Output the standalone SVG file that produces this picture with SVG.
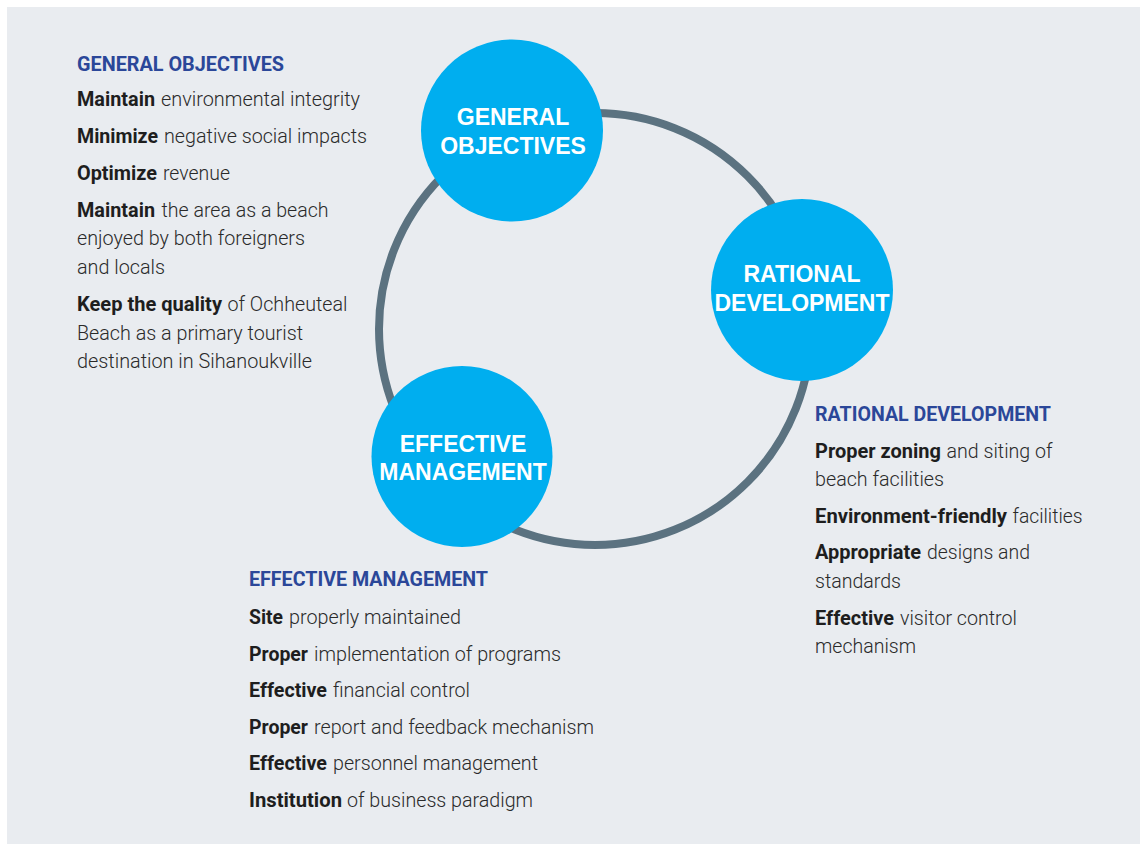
<svg xmlns="http://www.w3.org/2000/svg" width="1141" height="844" viewBox="0 0 1141 844">
<style>
.bg{fill:#e9ecf0}
.ring{fill:none;stroke:#5b7280;stroke-width:8}
.node{fill:#00aeef}
.nt{font-family:"Liberation Sans",Arial,sans-serif;font-weight:700;font-size:23px;fill:#fff;text-anchor:middle}
.hd{font-family:Roboto,"Liberation Sans",sans-serif;font-weight:700;font-size:21px;fill:#2b4799}
.tx{font-family:Roboto,"Liberation Sans",sans-serif;font-weight:300;font-size:21px;fill:#2a2a2a}
.b{font-family:Roboto,"Liberation Sans",sans-serif;font-weight:700;font-size:21px;fill:#1e1e1e}
</style>
<rect class="bg" x="7" y="7" width="1133" height="837"/>
<g id="connectors">
<circle class="ring" cx="595" cy="329" r="216"/>
</g>
<g id="node-general-objectives">
<circle class="node" cx="512" cy="130.5" r="91"/>
<text class="nt" x="513" y="125">GENERAL</text>
<text class="nt" x="513" y="154">OBJECTIVES</text>
</g>
<g id="node-rational-development">
<circle class="node" cx="802" cy="290" r="91"/>
<text class="nt" x="802" y="282">RATIONAL</text>
<text class="nt" x="802" y="311">DEVELOPMENT</text>
</g>
<g id="node-effective-management">
<circle class="node" cx="462" cy="456.5" r="90.5"/>
<text class="nt" x="463" y="452">EFFECTIVE</text>
<text class="nt" x="463" y="480">MANAGEMENT</text>
</g>
<g id="list-general-objectives">
<text class="hd" x="77" y="71" textLength="207" lengthAdjust="spacingAndGlyphs">GENERAL OBJECTIVES</text>
<text class="b" x="77" y="106" textLength="78" lengthAdjust="spacingAndGlyphs">Maintain</text>
<text class="tx" x="161" y="106" textLength="199" lengthAdjust="spacingAndGlyphs">environmental integrity</text>
<text class="b" x="77" y="143" textLength="81" lengthAdjust="spacingAndGlyphs">Minimize</text>
<text class="tx" x="164" y="143" textLength="203" lengthAdjust="spacingAndGlyphs">negative social impacts</text>
<text class="b" x="77" y="180" textLength="80" lengthAdjust="spacingAndGlyphs">Optimize</text>
<text class="tx" x="163" y="180" textLength="67" lengthAdjust="spacingAndGlyphs">revenue</text>
<text class="b" x="77" y="217" textLength="78" lengthAdjust="spacingAndGlyphs">Maintain</text>
<text class="tx" x="161.5" y="217" textLength="167" lengthAdjust="spacingAndGlyphs">the area as a beach</text>
<text class="tx" x="77" y="245" textLength="228" lengthAdjust="spacingAndGlyphs">enjoyed by both foreigners</text>
<text class="tx" x="77" y="274" textLength="88" lengthAdjust="spacingAndGlyphs">and locals</text>
<text class="b" x="77" y="311" textLength="145" lengthAdjust="spacingAndGlyphs">Keep the quality</text>
<text class="tx" x="227.5" y="311" textLength="120" lengthAdjust="spacingAndGlyphs">of Ochheuteal</text>
<text class="tx" x="77" y="340" textLength="226" lengthAdjust="spacingAndGlyphs">Beach as a primary tourist</text>
<text class="tx" x="77" y="368" textLength="235" lengthAdjust="spacingAndGlyphs">destination in Sihanoukville</text>
</g>
<g id="list-rational-development">
<text class="hd" x="815" y="421" textLength="236" lengthAdjust="spacingAndGlyphs">RATIONAL DEVELOPMENT</text>
<text class="b" x="815" y="458" textLength="126" lengthAdjust="spacingAndGlyphs">Proper zoning</text>
<text class="tx" x="946.5" y="458" textLength="106" lengthAdjust="spacingAndGlyphs">and siting of</text>
<text class="tx" x="815" y="486" textLength="129" lengthAdjust="spacingAndGlyphs">beach facilities</text>
<text class="b" x="815" y="523" textLength="192" lengthAdjust="spacingAndGlyphs">Environment-friendly</text>
<text class="tx" x="1012.5" y="523" textLength="70" lengthAdjust="spacingAndGlyphs">facilities</text>
<text class="b" x="815" y="559" textLength="106" lengthAdjust="spacingAndGlyphs">Appropriate</text>
<text class="tx" x="927" y="559" textLength="103" lengthAdjust="spacingAndGlyphs">designs and</text>
<text class="tx" x="815" y="588" textLength="86" lengthAdjust="spacingAndGlyphs">standards</text>
<text class="b" x="815" y="625" textLength="79" lengthAdjust="spacingAndGlyphs">Effective</text>
<text class="tx" x="900" y="625" textLength="117" lengthAdjust="spacingAndGlyphs">visitor control</text>
<text class="tx" x="815" y="653" textLength="101" lengthAdjust="spacingAndGlyphs">mechanism</text>
</g>
<g id="list-effective-management">
<text class="hd" x="249" y="586" textLength="239" lengthAdjust="spacingAndGlyphs">EFFECTIVE MANAGEMENT</text>
<text class="b" x="249" y="624" textLength="34" lengthAdjust="spacingAndGlyphs">Site</text>
<text class="tx" x="289" y="624" textLength="172" lengthAdjust="spacingAndGlyphs">properly maintained</text>
<text class="b" x="249" y="661" textLength="59" lengthAdjust="spacingAndGlyphs">Proper</text>
<text class="tx" x="314" y="661" textLength="247" lengthAdjust="spacingAndGlyphs">implementation of programs</text>
<text class="b" x="249" y="697" textLength="78" lengthAdjust="spacingAndGlyphs">Effective</text>
<text class="tx" x="333" y="697" textLength="137" lengthAdjust="spacingAndGlyphs">financial control</text>
<text class="b" x="249" y="734" textLength="59" lengthAdjust="spacingAndGlyphs">Proper</text>
<text class="tx" x="314" y="734" textLength="280" lengthAdjust="spacingAndGlyphs">report and feedback mechanism</text>
<text class="b" x="249" y="770" textLength="78" lengthAdjust="spacingAndGlyphs">Effective</text>
<text class="tx" x="333" y="770" textLength="205" lengthAdjust="spacingAndGlyphs">personnel management</text>
<text class="b" x="249" y="807" textLength="93" lengthAdjust="spacingAndGlyphs">Institution</text>
<text class="tx" x="347" y="807" textLength="186" lengthAdjust="spacingAndGlyphs">of business paradigm</text>
</g>
</svg>
